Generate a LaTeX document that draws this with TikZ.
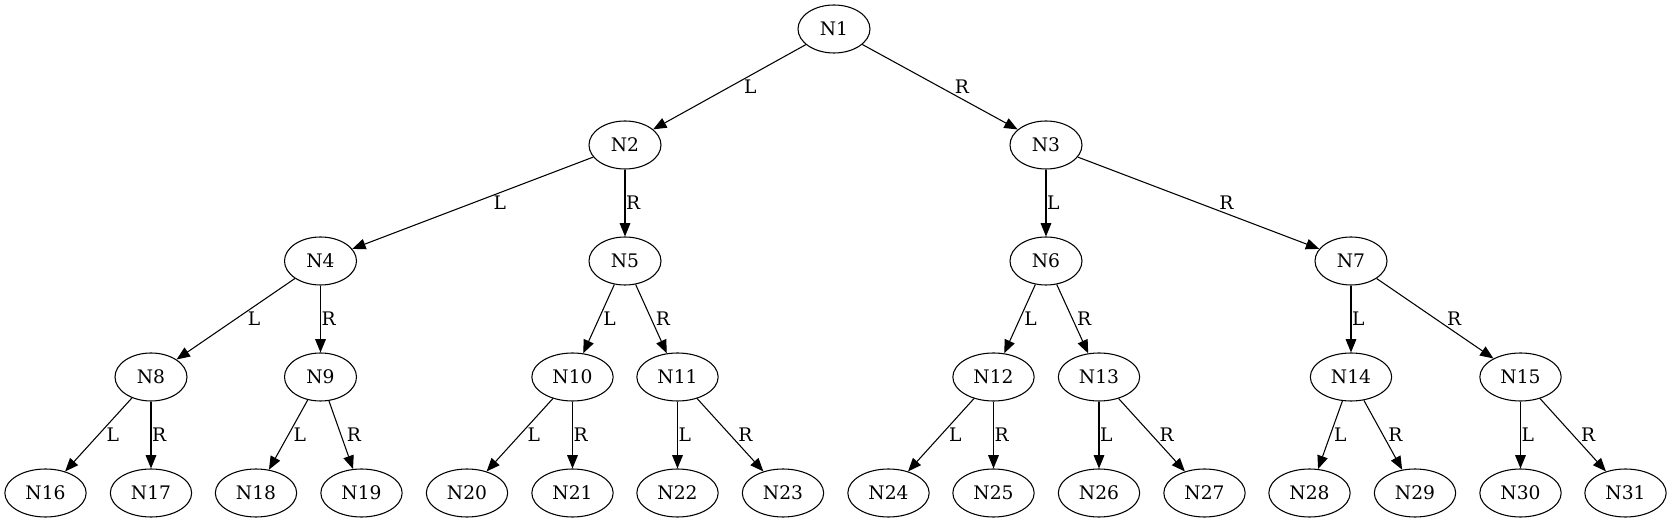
\documentclass[tikz,border=0pt]{standalone}
\usepackage{fontspec}
\setmainfont{DejaVu Serif}
\usetikzlibrary{shapes.geometric,arrows.meta}
\tikzset{
  nd/.style={draw, ellipse, line width=0.8pt, minimum width=54pt, minimum height=36pt, inner sep=0pt, font=\fontsize{14pt}{17pt}\selectfont},
  nw/.style={nd, minimum width=61pt},
  lbl/.style={anchor=west, inner sep=0.5pt, xshift=#1, font=\fontsize{14pt}{17pt}\selectfont},
  lbl/.default=0pt,
  arr/.style={-{Triangle[length=10pt,width=8pt]}, line width=0.8pt},
}
\begin{document}
\begin{tikzpicture}[x=0.75pt,y=-0.75pt]
\useasboundingbox (0,0) rectangle (1672,523);
% rank 1 and 2
\node[nd] (n1) at (834,29) {N1};
\node[nd] (n2) at (625,145) {N2};
\node[nd] (n3) at (1046,145) {N3};
% rank 3
\node[nd] (n4) at (320.5,261) {N4};
\node[nd] (n5) at (625,261) {N5};
\node[nd] (n6) at (1046,261) {N6};
\node[nd] (n7) at (1351,261) {N7};
% rank 4
\node[nd] (n8) at (151,377) {N8};
\node[nd] (n9) at (320.5,377) {N9};
\node[nw] (n10) at (572.5,377) {N10};
\node[nw] (n11) at (677.5,377) {N11};
\node[nw] (n12) at (993.5,377) {N12};
\node[nw] (n13) at (1099,377) {N13};
\node[nw] (n14) at (1351,377) {N14};
\node[nw] (n15) at (1520.5,377) {N15};
% leaves
\node[nw] (n16) at (45.5,493) {N16};
\node[nw] (n17) at (151,493) {N17};
\node[nw] (n18) at (256,493) {N18};
\node[nw] (n19) at (361.5,493) {N19};
\node[nw] (n20) at (467,493) {N20};
\node[nw] (n21) at (572.5,493) {N21};
\node[nw] (n22) at (677.5,493) {N22};
\node[nw] (n23) at (783,493) {N23};
\node[nw] (n24) at (888.5,493) {N24};
\node[nw] (n25) at (993.5,493) {N25};
\node[nw] (n26) at (1099,493) {N26};
\node[nw] (n27) at (1204.5,493) {N27};
\node[nw] (n28) at (1309.5,493) {N28};
\node[nw] (n29) at (1415,493) {N29};
\node[nw] (n30) at (1520.5,493) {N30};
\node[nw] (n31) at (1625.5,493) {N31};
% edges
\draw[arr] (n1) -- node[lbl=10.1pt] {L} (n2);
\draw[arr] (n1) -- node[lbl=10.2pt] {R} (n3);
\draw[arr] (n2) -- node[lbl=14.7pt] {L} (n4);
\draw[arr] (n2) -- node[lbl] {R} (n5);
\draw[arr] (n3) -- node[lbl] {L} (n6);
\draw[arr] (n3) -- node[lbl=14.7pt] {R} (n7);
\draw[arr] (n4) -- node[lbl=8.2pt] {L} (n8);
\draw[arr] (n4) -- node[lbl] {R} (n9);
\draw[arr] (n5) -- node[lbl=2.5pt] {L} (n10);
\draw[arr] (n5) -- node[lbl=2.6pt] {R} (n11);
\draw[arr] (n6) -- node[lbl=2.5pt] {L} (n12);
\draw[arr] (n6) -- node[lbl=2.6pt] {R} (n13);
\draw[arr] (n7) -- node[lbl] {L} (n14);
\draw[arr] (n7) -- node[lbl=8.2pt] {R} (n15);
\draw[arr] (n8) -- node[lbl=5.1pt] {L} (n16);
\draw[arr] (n8) -- node[lbl] {R} (n17);
\draw[arr] (n9) -- node[lbl=3.1pt] {L} (n18);
\draw[arr] (n9) -- node[lbl=3.5pt] {R} (n19);
\draw[arr] (n10) -- node[lbl=5pt] {L} (n20);
\draw[arr] (n10) -- node[lbl] {R} (n21);
\draw[arr] (n11) -- node[lbl] {L} (n22);
\draw[arr] (n11) -- node[lbl=5.1pt] {R} (n23);
\draw[arr] (n12) -- node[lbl=5.1pt] {L} (n24);
\draw[arr] (n12) -- node[lbl] {R} (n25);
\draw[arr] (n13) -- node[lbl] {L} (n26);
\draw[arr] (n13) -- node[lbl=5pt] {R} (n27);
\draw[arr] (n14) -- node[lbl=2pt] {L} (n28);
\draw[arr] (n14) -- node[lbl=3.1pt] {R} (n29);
\draw[arr] (n15) -- node[lbl] {L} (n30);
\draw[arr] (n15) -- node[lbl=5.1pt] {R} (n31);
\end{tikzpicture}
\end{document}
